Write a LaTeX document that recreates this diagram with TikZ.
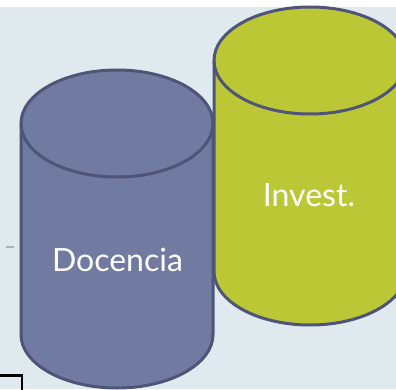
\documentclass[tikz,border=0pt]{standalone}
\usepackage{fontspec}
\setsansfont{Lato}
\definecolor{bgblue}{HTML}{DFE9EE}
\definecolor{rimblue}{HTML}{4F5479}
\definecolor{slatepurple}{HTML}{717AA0}
\definecolor{limegreen}{HTML}{BCC736}
\definecolor{dashblue}{HTML}{9DB6CB}
\tikzset{
	cyl/.style={draw=rimblue, line width=3pt, line join=round},
	lbl/.style={text=white, anchor=base, inner sep=0pt, font=\sffamily\fontsize{32}{32}\selectfont},
}
\begin{document}
\begin{tikzpicture}[x=1pt,y=1pt]
	\clip (0,0) rectangle (396,389);
	\fill[bgblue] (0,0) rectangle (396,389);
	\fill[white] (0,382) rectangle (396,389);
	% back cylinder first, then the front one
	\foreach \cx/\cy/\col in {310/328.5/limegreen, 117/265.5/slatepurple} {
		\draw[cyl, fill=\col] ({\cx-96},\cy) -- ++(0,-211)
		arc[start angle=180, end angle=360, x radius=96, y radius=53.5] -- ++(0,211)
		arc[start angle=0, end angle=180, x radius=96, y radius=53.5] -- cycle;
		\draw[cyl] ({\cx-96},\cy) arc[start angle=180, end angle=360, x radius=96, y radius=53.5];
	}
	\node[lbl] (invest) at (309,183) {Invest.};
	\node[lbl] (docencia) at (117.5,118) {Docencia};
	\draw[dashblue, line width=1.5pt] (6,142) -- (14,142);
	\draw[black, line width=2.3pt] (-5,-5) rectangle (22,13.5);
\end{tikzpicture}
\end{document}
